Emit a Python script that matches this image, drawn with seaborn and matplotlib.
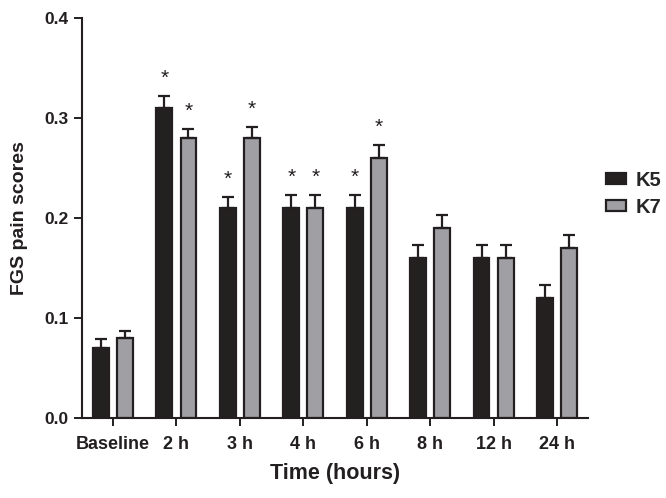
import matplotlib
matplotlib.use("Agg")
import matplotlib.pyplot as plt
import seaborn as sns
import pandas as pd
import numpy as np

times = ["Baseline", "2 h", "3 h", "4 h", "6 h", "8 h", "12 h", "24 h"]
k5_mean = [0.07, 0.31, 0.21, 0.21, 0.21, 0.16, 0.16, 0.12]
k5_err = [0.009, 0.012, 0.011, 0.013, 0.013, 0.013, 0.013, 0.013]
k7_mean = [0.08, 0.28, 0.28, 0.21, 0.26, 0.19, 0.16, 0.17]
k7_err = [0.007, 0.009, 0.011, 0.013, 0.013, 0.013, 0.013, 0.013]
k5_star = [False, True, True, True, True, False, False, False]
k7_star = [False, True, True, True, True, False, False, False]

df = pd.DataFrame({
    "time": times * 2,
    "score": k5_mean + k7_mean,
    "group": ["K5"] * len(times) + ["K7"] * len(times),
})

sns.set_style("ticks")
plt.rcParams["font.family"] = ["Liberation Sans", "DejaVu Sans"]
plt.rcParams["font.weight"] = "bold"

fig = plt.figure(figsize=(6.66, 4.98), dpi=100)
ax = fig.add_axes([0.123, 0.161, 0.76, 0.803])

colors = {"K5": "#231f20", "K7": "#a0a0a4"}
sns.barplot(data=df, x="time", y="score", hue="group", palette=colors,
            width=0.76, gap=0.34, edgecolor="#231f20", linewidth=1.6,
            errorbar=None, ax=ax)

# upper-only error bars + significance stars
groups = [("K5", k5_mean, k5_err, k5_star), ("K7", k7_mean, k7_err, k7_star)]
for cont, (name, means, errs, stars) in zip(ax.containers, groups):
    xs = [p.get_x() + p.get_width() / 2 for p in cont.patches]
    ax.errorbar(xs, means, yerr=[np.zeros(len(errs)), errs], fmt="none",
                ecolor="#231f20", elinewidth=1.6, capsize=4, capthick=1.6)
    for x, m, e, s in zip(xs, means, errs, stars):
        if s:
            ax.text(x, m + e + 0.008, "*", ha="center", va="bottom",
                    fontsize=15, fontweight="normal", color="#231f20")

ax.set_ylim(0, 0.4)
ax.set_xlim(-0.49, 7.49)
ax.set_yticks([0.0, 0.1, 0.2, 0.3, 0.4])
ax.set_yticklabels(["0.0", "0.1", "0.2", "0.3", "0.4"])
ax.tick_params(axis="both", width=1.4, length=6, color="#231f20",
               labelcolor="#231f20")
ax.tick_params(axis="y", labelsize=12.5)
ax.tick_params(axis="x", labelsize=13, pad=7)
for lab in ax.get_xticklabels() + ax.get_yticklabels():
    lab.set_fontweight("bold")
sns.despine(ax=ax)
for sp in ["left", "bottom"]:
    ax.spines[sp].set_linewidth(1.5)
    ax.spines[sp].set_color("#231f20")

ax.set_xlabel("Time (hours)", fontsize=15.5, fontweight="bold", labelpad=7, color="#231f20")
ax.set_ylabel("FGS pain scores", fontsize=14, fontweight="bold", labelpad=12, color="#231f20")

ax.legend(title=None, frameon=False, loc="center left",
          bbox_to_anchor=(0.895, 0.611), bbox_transform=fig.transFigure,
          borderpad=0, prop={"weight": "bold", "size": 14.5},
          handlelength=1.0, handleheight=0.5, handletextpad=0.45,
          labelspacing=0.4)

fig.savefig("out.png", dpi=100)
